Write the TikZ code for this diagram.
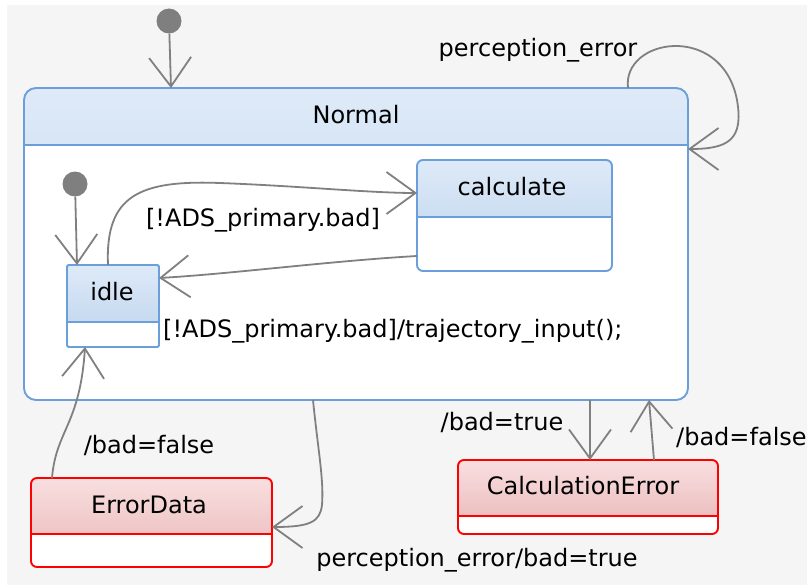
\documentclass[tikz,border=0pt]{standalone}
\usepackage{fontspec}
\setmainfont{DejaVu Sans}
\usetikzlibrary{arrows.meta}
\definecolor{bgc}{HTML}{F5F5F5}
\definecolor{blueborder}{HTML}{6A9FDB}
\definecolor{bluetop}{HTML}{DEEAF8}
\definecolor{bluebot}{HTML}{BBD2EC}
\definecolor{redborder}{HTML}{FF0000}
\definecolor{redtop}{HTML}{F9DFE0}
\definecolor{redbot}{HTML}{E8B5B6}
\definecolor{conn}{HTML}{808080}
\definecolor{initc}{HTML}{7F7F7F}
\tikzset{
  statebase/.style={line width=1.9pt, fill=white, inner sep=0pt, outer sep=0pt},
  bluestate/.style={statebase, draw=blueborder,
    path picture={
      \shade[sharp corners, top color=bluetop, bottom color=bluebot]
        (path picture bounding box.north west) rectangle ([yshift=-57pt]path picture bounding box.north east);
      \draw[sharp corners, blueborder, line width=1.9pt]
        ([yshift=-57pt]path picture bounding box.north west) -- ([yshift=-57pt]path picture bounding box.north east);
    }},
  redstate/.style={statebase, draw=redborder,
    path picture={
      \shade[sharp corners, top color=redtop, bottom color=redbot]
        (path picture bounding box.north west) rectangle ([yshift=-56pt]path picture bounding box.north east);
      \draw[sharp corners, redborder, line width=1.9pt]
        ([yshift=-56pt]path picture bounding box.north west) -- ([yshift=-56pt]path picture bounding box.north east);
    }},
  txt/.style={font=\fontsize{24}{28}\selectfont, inner sep=0pt, text=black},
  initdot/.style={circle, fill=initc, inner sep=0pt, minimum size=25pt},
  trans/.style={draw=conn, line width=1.8pt, -{Straight Barb[length=29pt,width=42pt]}},
}
\begin{document}
\begin{tikzpicture}[x=1pt,y=-1pt]
\useasboundingbox (0,0) rectangle (807,586);
\fill[bgc] (7,5) rectangle (807,585);

% states
\node[bluestate, rounded corners=12pt, minimum width=664pt, minimum height=312pt] (normal) at (356,244) {};
\node[bluestate, rounded corners=6pt, minimum width=195pt, minimum height=111pt] (calc) at (514.5,215.5) {};
\node[bluestate, rounded corners=1.5pt, minimum width=92pt, minimum height=82pt] (idle) at (113,306) {};
\node[redstate, rounded corners=6pt, minimum width=241pt, minimum height=89pt] (errd) at (151.5,522.5) {};
\node[redstate, rounded corners=6pt, minimum width=260pt, minimum height=74pt] (calcerr) at (588,497) {};

% state names
\node[txt] (normaltxt) at (356,115) {Normal};
\node[txt] (calctxt) at (512,187) {calculate};
\node[txt] (idletxt) at (112,292) {idle};
\node[txt] (errdtxt) at (149,505) {ErrorData};
\node[txt] (calcerrtxt) at (583,486) {CalculationError};

% initial pseudostates
\node[initdot] (init1) at (169,21) {};
\node[initdot] (init2) at (75,184) {};

% transitions
\draw[trans] (init1) -- (normal.north -| 171,0);
\draw[trans] (normal.north -| 628,0) .. controls (622,38) and (722,22) .. (737,100)
  .. controls (744,140) and (728,149) .. (normal.east |- 0,149);
\draw[trans] (init2) -- (idle.north -| 77,0);
\draw[trans] (idle.north -| 108,0) .. controls (105,195) and (140,180) .. (220,183)
  .. controls (300,186) and (370,193) .. (calc.west |- 0,193);
\draw[trans] (calc.west |- 0,256) .. controls (330,261) and (230,274) .. (idle.east |- 0,278);
\draw[trans] (errd.north -| 52,0) .. controls (56,430) and (80,425) .. (idle.south -| 85,0);
\draw[trans] (normal.south -| 313,0) .. controls (318,450) and (324,480) .. (322,505)
  .. controls (320,522) and (310,527) .. (errd.east |- 0,527);
\draw[trans] (normal.south -| 590,0) -- (calcerr.north -| 590,0);
\draw[trans] (calcerr.north -| 654,0) -- (normal.south -| 649,0);

% labels
\node[txt] (l1) at (538,50) {perception\_error};
\node[txt] (l2) at (263,220) {[!ADS\_primary.bad]};
\node[txt, anchor=west] (l3) at (163,331) {[!ADS\_primary.bad]/trajectory\_input();};
\node[txt] (l4) at (149,445) {/bad=false};
\node[txt] (l5) at (477,560) {perception\_error/bad=true};
\node[txt] (l6) at (502,422) {/bad=true};
\node[txt, anchor=west] (l7) at (676,437) {/bad=false};
\end{tikzpicture}
\end{document}
